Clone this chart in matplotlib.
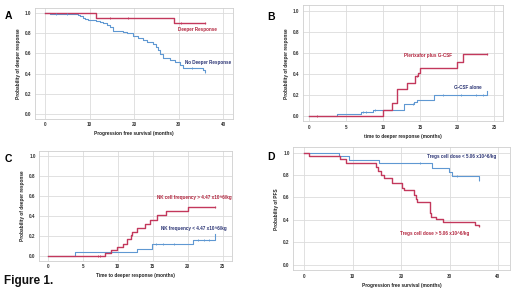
import numpy as np
import matplotlib
matplotlib.use("Agg")
import matplotlib.pyplot as plt

plt.rcParams['font.family'] = ['Liberation Sans', 'DejaVu Sans']

RED = '#c3385c'
BLUE = '#5f98d2'
RED_TXT = '#b3263f'
NAVY_TXT = '#2c3575'
TICK_C = '#333333'

# ---------------- Panel A ----------------
A_resp_t = [0, 11.5, 28.9, 36.0]
A_resp_s = [1.0, 0.952, 0.90, 0.90]
A_resp_c = [14.5, 18.7, 30.6, 36.0]
A_no_t = [0, 1.0, 7.3, 7.8, 8.4, 9.0, 9.6, 11.5, 12.3, 13.0, 13.8, 14.5, 15.3, 17.5, 18.3,
          19.8, 20.9, 22.0, 22.8, 24.3, 25.0, 25.4, 25.8, 26.5, 28.0, 29.1, 30.3, 31.0, 35.5, 36.0]
A_no_s = [1.0, 0.99, 0.98, 0.97, 0.955, 0.94, 0.93, 0.925, 0.91, 0.90, 0.885, 0.86, 0.82, 0.81, 0.80,
          0.77, 0.75, 0.73, 0.71, 0.69, 0.66, 0.63, 0.59, 0.55, 0.535, 0.52, 0.49, 0.46, 0.44, 0.415]
A_no_c = [2.5, 4.8, 33.0, 36.0]

# ---------------- Panel B ----------------
B_plx_t = [0, 10.0, 11.1, 11.8, 13.15, 14.3, 14.7, 14.95, 20.0, 20.8, 24.0]
B_plx_s = [0, 0.057, 0.127, 0.253, 0.316, 0.38, 0.405, 0.452, 0.516, 0.589, 0.589]
B_plx_c = [1.0, 14.5, 24.0]
B_g_t = [0, 3.8, 7.0, 8.6, 9.9, 12.8, 14.2, 14.5, 16.9, 24.0]
B_g_s = [0, 0.022, 0.038, 0.054, 0.06, 0.11, 0.133, 0.155, 0.197, 0.238]
B_g_c = [7.3, 7.7, 8.9, 14.0, 18.0, 20.5, 22.5, 23.5]

# ---------------- Panel C ----------------
C_hi_t = [0, 8.2, 9.1, 9.95, 10.8, 11.4, 11.86, 12.1, 12.7, 13.9, 14.6, 15.6, 16.9, 20.1, 23.9]
C_hi_s = [0, 0.03, 0.057, 0.083, 0.123, 0.164, 0.207, 0.24, 0.28, 0.32, 0.36, 0.41, 0.45, 0.49, 0.49]
C_hi_c = [7.2, 7.5, 12.0, 23.9]
C_lo_t = [0, 3.9, 12.7, 14.86, 20.8, 23.9]
C_lo_s = [0, 0.037, 0.07, 0.117, 0.157, 0.214]
C_lo_c = [15.5, 16.5, 18.0, 21.5, 22.3, 23.0]

# ---------------- Panel D ----------------
D_lo_t = [0, 7.2, 9.3, 15.5, 26.3, 29.8, 30.5, 36.2]
D_lo_s = [1.0, 0.97, 0.935, 0.905, 0.866, 0.827, 0.79, 0.753]
D_lo_c = [24.0, 31.5, 36.2]
D_hi_t = [0, 1.0, 7.35, 8.6, 14.9, 15.3, 15.9, 16.4, 18.2, 20.1, 20.5, 22.6, 23.0, 23.3,
          25.9, 26.0, 26.2, 27.3, 28.7, 35.2, 36.2]
D_hi_s = [1.0, 0.97, 0.94, 0.905, 0.875, 0.836, 0.80, 0.77, 0.726, 0.688, 0.667, 0.62, 0.583, 0.56,
          0.51, 0.464, 0.429, 0.41, 0.38, 0.35, 0.345]
D_hi_c = [36.2]

Y_TICKS = [0.0, 0.2, 0.4, 0.6, 0.8, 1.0]


def km(ax, t, s, c, color, lw):
    ax.step(t, s, where='post', color=color, lw=lw, zorder=3)
    t_arr = np.asarray(t)
    s_arr = np.asarray(s)
    cy = [s_arr[np.searchsorted(t_arr, ct, side='right') - 1] for ct in c]
    ax.plot(c, cy, ls='none', marker='|', ms=2.0, mew=0.6, color=color, zorder=4)


def style(ax, xticks, xlim, xlabel, ylabel):
    ax.set_xlim(*xlim)
    ax.set_ylim(-0.05, 1.05)
    ax.set_xticks(xticks)
    ax.set_yticks(Y_TICKS)
    ax.set_yticklabels(['%.1f' % v for v in Y_TICKS])
    ax.grid(True, color='#dcdcdc', lw=0.6, zorder=0)
    ax.set_axisbelow(True)
    for sp in ax.spines.values():
        sp.set_color('#cfcfcf')
        sp.set_linewidth(0.6)
    ax.tick_params(length=0, labelsize=3.3, colors=TICK_C, pad=2.5)
    for lab in ax.get_xticklabels() + ax.get_yticklabels():
        lab.set_fontweight('bold')
    ax.set_xlabel(xlabel, fontsize=3.4, fontweight='bold', color='#222222', labelpad=3)
    ax.set_ylabel(ylabel, fontsize=3.4, fontweight='bold', color='#222222', labelpad=3)


fig = plt.figure(figsize=(5.2, 2.92), dpi=100)
fig.patch.set_facecolor('white')

axA = fig.add_axes([0.0673, 0.5935, 0.380, 0.378])
axB = fig.add_axes([0.582, 0.5846, 0.386, 0.397])
axC = fig.add_axes([0.0756, 0.107, 0.370, 0.3757])
axD = fig.add_axes([0.564, 0.0743, 0.4167, 0.422])

LFS = 3.3

# A
km(axA, A_no_t, A_no_s, A_no_c, BLUE, 0.8)
km(axA, A_resp_t, A_resp_s, A_resp_c, RED, 1.0)
style(axA, [0, 10, 20, 30, 40], (-2.3, 42.1), 'Progression free survival (months)',
      'Probability of deeper response')
axA.text(34.1, 0.837, 'Deeper Response', color=RED_TXT, fontsize=LFS, fontweight='bold', ha='center', va='center')
axA.text(36.6, 0.508, 'No Deeper Response', color=NAVY_TXT, fontsize=LFS, fontweight='bold', ha='center', va='center')

# B
km(axB, B_g_t, B_g_s, B_g_c, BLUE, 0.8)
km(axB, B_plx_t, B_plx_s, B_plx_c, RED, 1.0)
style(axB, [0, 5, 10, 15, 20, 25], (-0.9, 26.2), 'time to deeper response (months)',
      'Probability of deeper response')
axB.text(16.0, 0.579, 'Plerixafor plus G-CSF', color=RED_TXT, fontsize=LFS, fontweight='bold', ha='center', va='center')
axB.text(21.4, 0.273, 'G-CSF alone', color=NAVY_TXT, fontsize=LFS, fontweight='bold', ha='center', va='center')

# C
km(axC, C_lo_t, C_lo_s, C_lo_c, BLUE, 0.8)
km(axC, C_hi_t, C_hi_s, C_hi_c, RED, 1.0)
style(axC, [0, 5, 10, 15, 20, 25], (-1.2, 26.3), 'Time to deeper response (months)',
      'Probability of deeper response')
axC.text(21.0, 0.589, 'NK cell frequency > 4.47 x10^6/kg', color=RED_TXT, fontsize=LFS, fontweight='bold', ha='center', va='center')
axC.text(20.9, 0.275, 'NK frequency < 4.47 x10^6/kg', color=NAVY_TXT, fontsize=LFS, fontweight='bold', ha='center', va='center')

# D
km(axD, D_lo_t, D_lo_s, D_lo_c, BLUE, 0.8)
km(axD, D_hi_t, D_hi_s, D_hi_c, RED, 1.0)
style(axD, [0, 10, 20, 30, 40], (-2.3, 42.5), 'Progression free survival (months)',
      'Probability of PFS')
axD.text(32.6, 0.962, 'Tregs cell dose < 5.06 x10^6/kg', color=NAVY_TXT, fontsize=LFS, fontweight='bold', ha='center', va='center')
axD.text(27.0, 0.28, 'Tregs cell dose > 5.06 x10^6/kg', color=RED_TXT, fontsize=LFS, fontweight='bold', ha='center', va='center')

# panel letters
fig.text(0.0155, 0.945, 'A', fontsize=7.5, fontweight='bold', ha='center', va='center')
fig.text(0.521, 0.942, 'B', fontsize=7.5, fontweight='bold', ha='center', va='center')
fig.text(0.0163, 0.457, 'C', fontsize=7.5, fontweight='bold', ha='center', va='center')
fig.text(0.521, 0.462, 'D', fontsize=7.5, fontweight='bold', ha='center', va='center')
fig.text(0.008, 0.036, 'Figure 1.', fontsize=8.5, fontweight='bold', ha='left', va='center', color='#111111')

fig.savefig('out.png', dpi=100, facecolor='white')
